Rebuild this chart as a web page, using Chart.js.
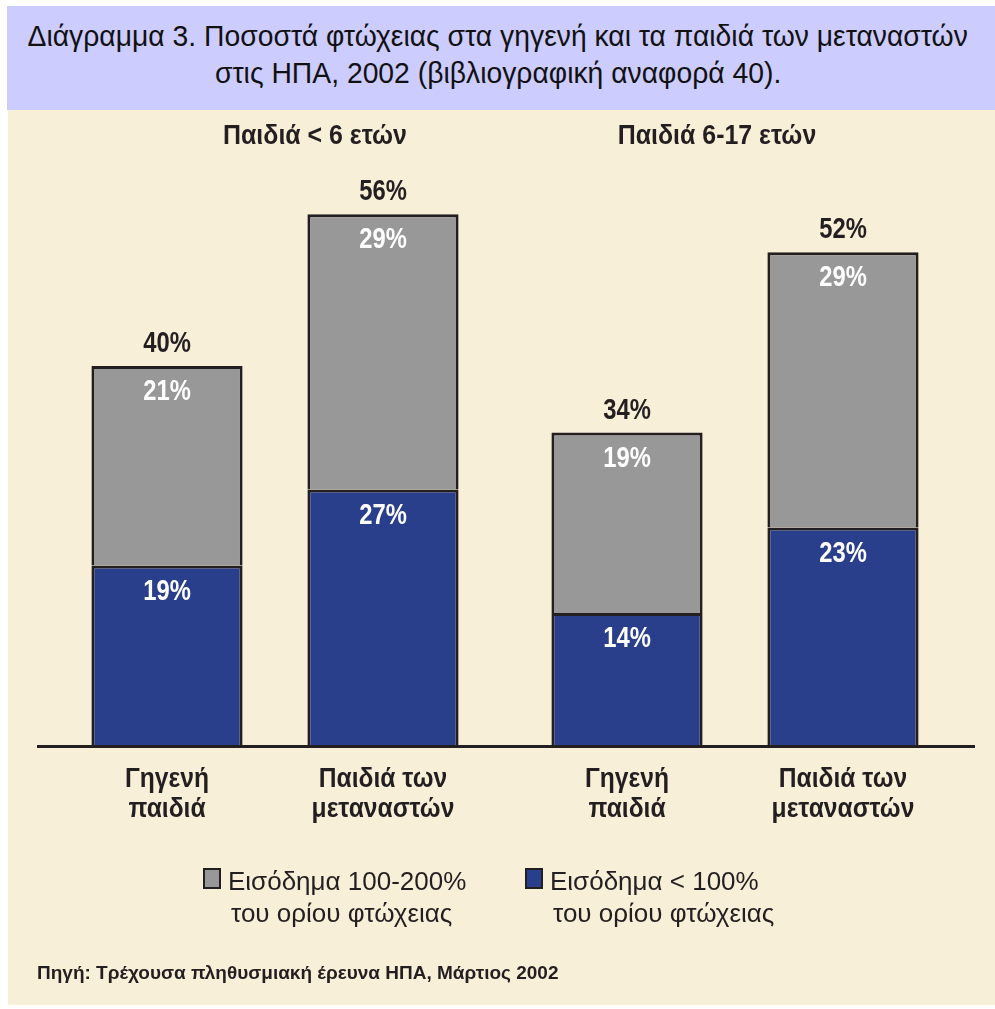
<!DOCTYPE html>
<html>
<head>
<meta charset="utf-8">
<script src="https://cdn.jsdelivr.net/npm/chart.js@4.4.1/dist/chart.umd.min.js"></script>
<style>
  body { margin: 0; width: 995px; height: 1009px; background: #fff; position: relative; overflow: hidden;
         font-family: 'Liberation Sans', Arial, sans-serif; color: #231f20; }
  #head { position: absolute; left: 7px; top: 6px; width: 988px; height: 104px; background: #ccccff;
          text-align: center; font-size: 29px; line-height: 37px; box-sizing: border-box; padding: 12px 6px 0 0; color: #111; }
  #head span { display: inline-block; transform: scaleX(0.976); transform-origin: center; white-space: nowrap; }
  #panel { position: absolute; left: 8px; top: 110px; width: 987px; height: 895px; background: #f8efd9; }
  #panel canvas { position: absolute; left: 0; top: 0; }
  .key { position: absolute; top: 755px; font-size: 26px; line-height: 32px; white-space: nowrap; }
  .key i { position: absolute; left: -25px; top: 3px; width: 14px; height: 17px; border: 2px solid #231f20; }
  .key b { font-weight: normal; margin-left: 3px; }
  #src { position: absolute; left: 29px; top: 852px; font-size: 19px; font-weight: bold; }
</style>
</head>
<body>
<div id="head"><span>Διάγραμμα 3. Ποσοστά φτώχειας στα γηγενή και τα παιδιά των μεταναστών</span><br><span>στις ΗΠΑ, 2002 (βιβλιογραφική αναφορά 40).</span></div>
<div id="panel">
  <canvas id="myChart" width="987" height="895"></canvas>
  <div class="key" style="left:220px"><i style="background:#989898"></i>Εισόδημα 100-200%<br><b>του ορίου φτώχειας</b></div>
  <div class="key" style="left:542px"><i style="background:#293f8b"></i>Εισόδημα &lt; 100%<br><b>του ορίου φτώχειας</b></div>
  <div id="src">Πηγή: Τρέχουσα πληθυσμιακή έρευνα ΗΠΑ, Μάρτιος 2002</div>
</div>
<script>
var ageGroups = ['Παιδιά < 6 ετών', 'Παιδιά 6-17 ετών'];
var childGroups = [['Γηγενή', 'παιδιά'], ['Παιδιά των', 'μεταναστών']];

// percent of children per income band, one value per age group
var nativeBelow100 = [19, 14];
var nativeBand100to200 = [21, 19];
var immigrantBelow100 = [27, 23];
var immigrantBand100to200 = [29, 29];

// totals as printed above each bar (native, immigrant) per age group
var nativeTotals = [40, 34];
var immigrantTotals = [56, 52];

var gray = '#989898';
var blue = '#293f8b';
var ink = '#231f20';

// condensed bold text, centred on x/y
function narrowText(c, text, x, y, size, squeeze) {
    c.save();
    c.translate(x, y);
    c.scale(squeeze, 1);
    c.font = 'bold ' + size + "px 'Liberation Sans', Arial, sans-serif";
    c.fillText(text, 0, 0);
    c.restore();
}

var barLabels = {
    id: 'barLabels',
    afterDatasetsDraw: function(chart) {
        var c = chart.ctx;
        var area = chart.chartArea;
        var xs = chart.scales.x;
        c.save();
        c.textAlign = 'center';
        c.textBaseline = 'middle';

        // segment values in white
        c.fillStyle = '#fff';
        chart.data.datasets.forEach(function(ds, i) {
            chart.getDatasetMeta(i).data.forEach(function(bar, j) {
                narrowText(c, ds.data[j] + '%', bar.x, bar.y + 26, 29, 0.82);
            });
        });

        // totals above, child group names below
        var tops = [chart.getDatasetMeta(1), chart.getDatasetMeta(3)];
        var totals = [nativeTotals, immigrantTotals];
        c.fillStyle = ink;
        tops.forEach(function(meta, k) {
            meta.data.forEach(function(bar, j) {
                narrowText(c, totals[k][j] + '%', bar.x, bar.y - 22, 29, 0.82);
                narrowText(c, childGroups[k][0], bar.x, area.bottom + 33, 28, 0.88);
                narrowText(c, childGroups[k][1], bar.x, area.bottom + 63, 28, 0.88);
            });
        });

        // age group headings
        var shift = [40, -18];
        ageGroups.forEach(function(name, j) {
            narrowText(c, name, xs.getPixelForValue(j) + shift[j], 26, 28, 0.89);
        });

        // baseline
        c.strokeStyle = ink;
        c.lineWidth = 3;
        c.beginPath();
        c.moveTo(area.left - 8, area.bottom + 0.5);
        c.lineTo(area.right + 10, area.bottom + 0.5);
        c.stroke();
        c.restore();
    }
};

var ctx = document.getElementById('myChart').getContext('2d');
var myChart = new Chart(ctx, {
    type: 'bar',
    data: {
        labels: ageGroups,
        datasets: [
            { label: 'Εισόδημα < 100%', data: nativeBelow100, stack: 'native', backgroundColor: blue },
            { label: 'Εισόδημα 100-200%', data: nativeBand100to200, stack: 'native', backgroundColor: gray },
            { label: 'Εισόδημα < 100%', data: immigrantBelow100, stack: 'immigrant', backgroundColor: blue },
            { label: 'Εισόδημα 100-200%', data: immigrantBand100to200, stack: 'immigrant', backgroundColor: gray }
        ]
    },
    options: {
        responsive: false,
        animation: false,
        layout: { padding: { left: 37, right: 30, top: 69, bottom: 259 } },
        datasets: {
            bar: {
                borderColor: ink,
                borderWidth: 3,
                borderSkipped: 'start',
                categoryPercentage: 0.939,
                barPercentage: 0.7
            }
        },
        plugins: {
            legend: { display: false },
            tooltip: { enabled: false }
        },
        scales: {
            x: { display: false, stacked: true },
            y: { display: false, stacked: true, min: 0, max: 59.7 }
        }
    },
    plugins: [barLabels]
});
</script>
</body>
</html>
